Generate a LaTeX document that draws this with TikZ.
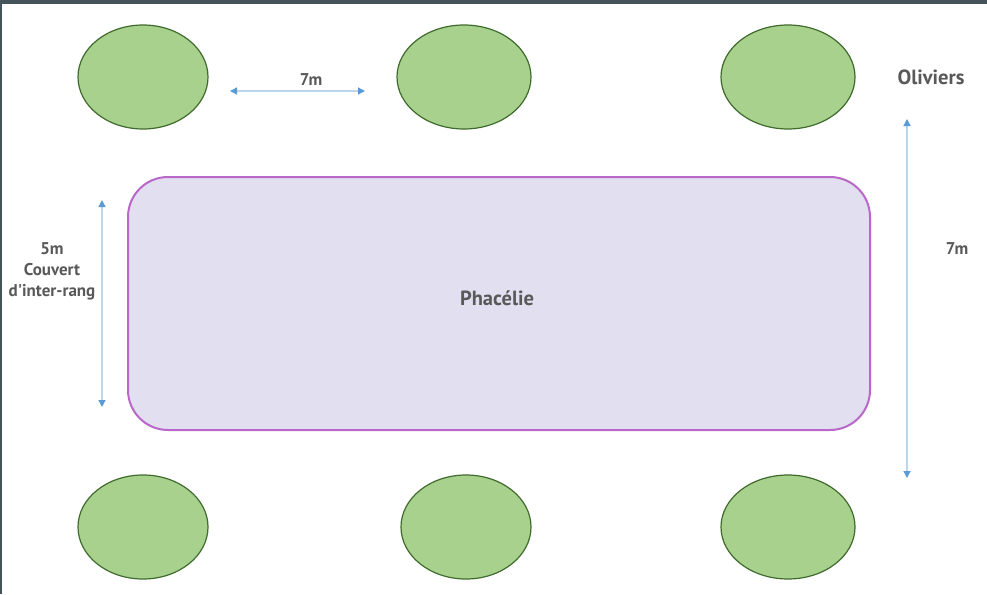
\documentclass[tikz,border=0pt]{standalone}
\usepackage{fontspec}
\setmainfont{PT Sans}
\usetikzlibrary{arrows.meta,shapes.geometric}
\definecolor{leaf}{HTML}{A9D18E}
\definecolor{leafedge}{HTML}{3F6B2C}
\definecolor{bed}{HTML}{E1DFF0}
\definecolor{bededge}{HTML}{B968C9}
\definecolor{dimline}{HTML}{BCD5EA}
\definecolor{dimtip}{HTML}{5B9BD5}
\definecolor{txt}{HTML}{595959}
\definecolor{frame}{HTML}{45535B}
\tikzset{
  tree/.style={ellipse, draw=leafedge, fill=leaf, line width=1.2pt, inner sep=0pt},
  label/.style={text=txt, font=\fontsize{17}{21}\selectfont\bfseries, align=center, inner sep=0pt},
  biglabel/.style={label, font=\fontsize{20.5}{24}\selectfont\bfseries},
  dimarrow/.style={draw=dimline, line width=1.3pt,
    {Triangle[length=7pt,width=7pt,fill=dimtip,color=dimtip]}-{Triangle[length=7pt,width=7pt,fill=dimtip,color=dimtip]}}
}
\begin{document}
\begin{tikzpicture}[x=1pt,y=-1pt]
  \useasboundingbox (0,0) rectangle (987,594);
  \fill[white] (0,0) rectangle (987,594);
  % window frame
  \fill[frame] (0,0) rectangle (987,4);
  \fill[frame] (0,0) rectangle (1.5,594);

  % olive trees, top row
  \node[tree, minimum width=130pt, minimum height=104pt] (t1) at (143,77) {};
  \node[tree, minimum width=134pt, minimum height=104pt] (t2) at (464,77) {};
  \node[tree, minimum width=134pt, minimum height=104pt] (t3) at (788,77) {};
  % olive trees, bottom row
  \node[tree, minimum width=130pt, minimum height=104pt] (b1) at (143,527) {};
  \node[tree, minimum width=130pt, minimum height=104pt] (b2) at (466,527) {};
  \node[tree, minimum width=134pt, minimum height=104pt] (b3) at (788,527) {};

  % cover crop strip
  \draw[draw=bededge, fill=bed, line width=2pt, rounded corners=40pt]
    (128,177) rectangle (870,430);
  \node[biglabel] (phac) at (497,298) {Phacélie};

  % dimension lines
  \coordinate (h1) at (230,91);
  \coordinate (h2) at (365,91);
  \draw[dimarrow] (h1) -- (h2);
  \node[label] (l7a) at (311,80) {7m};

  \coordinate (v1) at (102,200);
  \coordinate (v2) at (102,407);
  \draw[dimarrow] (v1) -- (v2);
  \node[label] (l5) at (52,271) {5m\\Couvert\\d\textquotesingle inter-rang};

  \coordinate (r1) at (907,119);
  \coordinate (r2) at (907,478);
  \draw[dimarrow] (r1) -- (r2);
  \node[label] (l7b) at (957,249) {7m};

  \node[biglabel] (oliv) at (931,77) {Oliviers};
\end{tikzpicture}
\end{document}
